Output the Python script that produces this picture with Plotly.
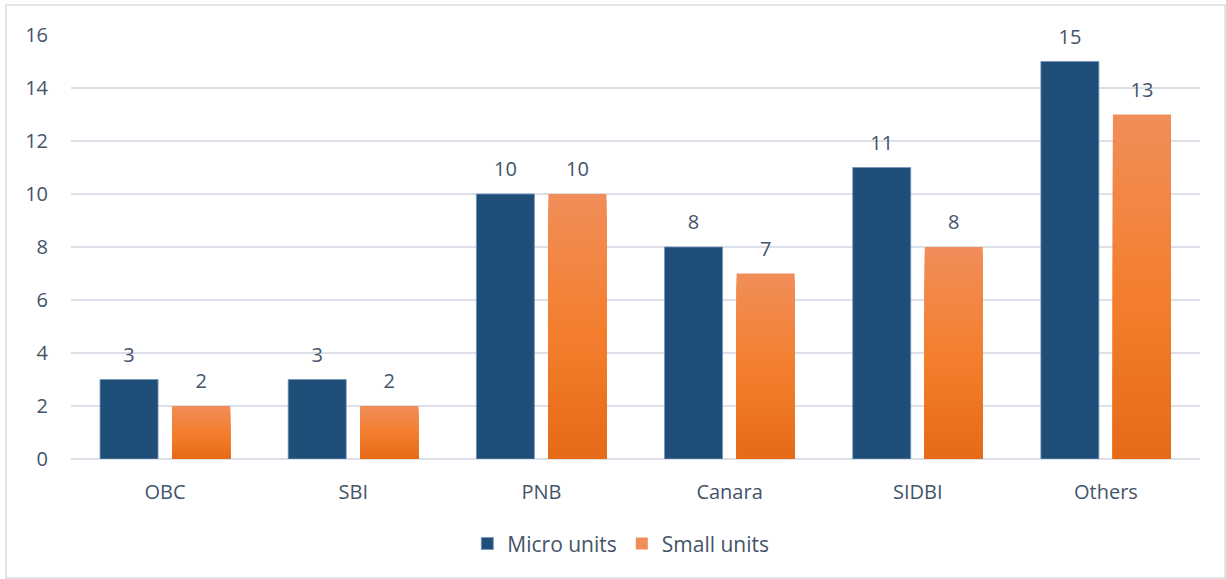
import plotly.graph_objects as go

# Number of units financed, by bank
banks = ["OBC", "SBI", "PNB", "Canara", "SIDBI", "Others"]
micro_units = [3, 3, 10, 8, 11, 15]
small_units = [2, 2, 10, 7, 8, 13]
y_ticks = [0, 2, 4, 6, 8, 10, 12, 14, 16]

TEXT = "#44546A"
NAVY = "#1F4E79"
FONT = "'Open Sans', Calibri, Lato, sans-serif"


def lerp(c1, c2, t):
    a = [int(c1[i:i + 2], 16) for i in (1, 3, 5)]
    b = [int(c2[i:i + 2], 16) for i in (1, 3, 5)]
    return "#" + "".join(f"{round(x + (y - x) * t):02X}" for x, y in zip(a, b))


def orange_at(f):
    # vertical gradient: darker at the base, lighter at the top
    if f < 0.5:
        return lerp("#E46A17", "#F37F2E", f / 0.5)
    return lerp("#F37F2E", "#F18D58", (f - 0.5) / 0.5)


fig = go.Figure()

# value label with a short spacer line underneath to lift it off the bar
label_tpl = "<span style='font-size:20px'>%{text}</span><br> "
label_font = dict(size=9, color=TEXT, family=FONT)

fig.add_trace(go.Bar(
    x=banks, y=micro_units, name="Micro units", offsetgroup="micro",
    marker=dict(color=NAVY, line=dict(color="#7393B8", width=0.8)),
    text=[str(v) for v in micro_units],
    texttemplate=label_tpl, textposition="outside", cliponaxis=False,
    textfont=label_font,
))

# Small units: stacked layers of shrinking height give the bar a gradient fill
steps = 40
for k in range(steps, 0, -1):
    frac = k / steps
    first = k == steps
    fig.add_trace(go.Bar(
        x=banks, y=[v * frac for v in small_units],
        name="Small units", offsetgroup="small", showlegend=first,
        marker=dict(color=orange_at(frac), line=dict(width=0)),
        text=[str(v) for v in small_units] if first else None,
        texttemplate=label_tpl if first else None,
        textposition="outside" if first else "none", cliponaxis=False,
        textfont=label_font,
        hoverinfo="skip" if not first else None,
    ))

fig.update_layout(
    width=1226, height=579,
    margin=dict(l=71, r=26, t=35, b=120),
    paper_bgcolor="white", plot_bgcolor="white",
    barmode="group", bargap=0.234, bargroupgap=0.195,
    font=dict(family=FONT, color=TEXT, size=20),
    showlegend=True,
    legend=dict(orientation="h", x=0.487, xanchor="center", y=-0.2, yanchor="middle",
                font=dict(size=21, color=TEXT, family=FONT), itemwidth=30,
                traceorder="normal"),
    xaxis=dict(showgrid=False, showline=False, zeroline=False, ticks="",
               ticklabelstandoff=19, tickfont=dict(size=20, color=TEXT)),
    yaxis=dict(range=[0, 16], tickvals=y_ticks, showgrid=True, gridcolor="#DCE1E9",
               gridwidth=1.5, zeroline=True, zerolinecolor="#DCE1E9", zerolinewidth=1.5,
               showline=False, ticks="", ticklabelstandoff=22,
               tickfont=dict(size=20, color=TEXT)),
    shapes=[dict(type="rect", xref="paper", yref="paper",
                 x0=(6 - 71) / 1129, x1=(1225 - 71) / 1129,
                 y0=(459 - 578) / 424, y1=1 + (35 - 5) / 424,
                 line=dict(color="#D9DDE3", width=1.5), layer="below")],
)

fig.write_html("out.html")
